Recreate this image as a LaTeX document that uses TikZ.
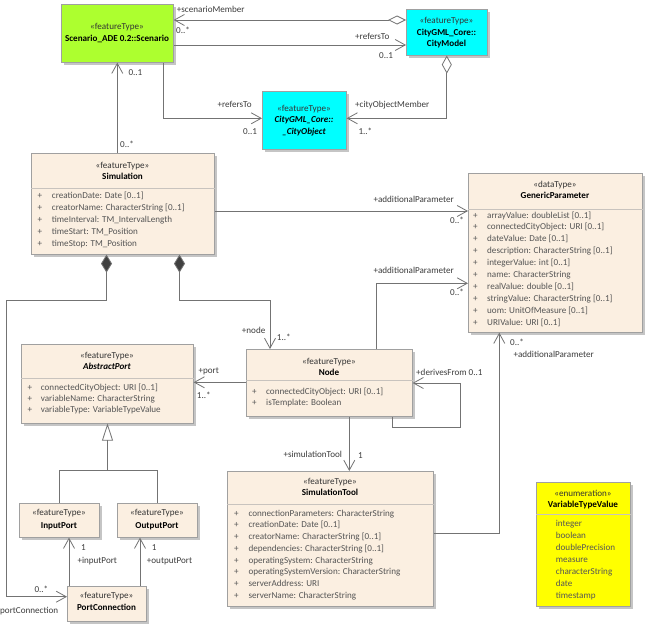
\documentclass[tikz,border=0pt]{standalone}
\usepackage{fontspec}
\setmainfont{Carlito}
\usetikzlibrary{arrows.meta,shadows}
\definecolor{clsfill}{RGB}{251,239,225}
\definecolor{clsborder}{RGB}{160,160,160}
\definecolor{sepcol}{RGB}{200,195,190}
\definecolor{linecol}{RGB}{115,115,115}
\definecolor{attrcol}{RGB}{85,85,85}
\definecolor{lblcol}{RGB}{60,60,60}
\definecolor{scengreen}{RGB}{173,255,47}
\definecolor{cgcyan}{RGB}{0,255,255}
\definecolor{enumyel}{RGB}{255,255,0}
\tikzset{
  cls/.style={draw=clsborder, fill=#1, line width=0.6pt, inner sep=0pt, anchor=north west,
    drop shadow={shadow xshift=2.5pt, shadow yshift=-2.5pt, fill=black!45, opacity=0.5}},
  sepline/.style={draw=sepcol, line width=0.6pt},
  txt/.style={font=\fontsize{9.1}{11}\selectfont, inner sep=0pt, anchor=base},
  stereo/.style={txt, text=black!80},
  ttl/.style={txt, font=\fontsize{9.1}{11}\selectfont\bfseries, text=black},
  ttli/.style={txt, font=\fontsize{9.1}{11}\selectfont\bfseries\itshape, text=black},
  attr/.style={txt, text=attrcol, anchor=base west},
  lbl/.style={txt, text=lblcol, anchor=base west},
  conn/.style={draw=linecol, line width=0.8pt},
  nav/.style={-{Straight Barb[length=10pt,width=11pt,line width=0.8pt]}},
}
\begin{document}
\begin{tikzpicture}[x=1pt,y=-1pt]
\useasboundingbox[fill=white] (0,0) rectangle (651,632);

% ---------- boxes ----------
\node[cls=scengreen, minimum width=112pt, minimum height=58pt] (scen) at (61,4) {};
\node[cls=cgcyan, minimum width=81pt, minimum height=46pt] (cm) at (406,9) {};
\node[cls=cgcyan, minimum width=84pt, minimum height=58pt] (cobj) at (262,91) {};
\node[cls=clsfill, minimum width=183pt, minimum height=101pt] (sim) at (31,153) {};
\node[cls=clsfill, minimum width=174pt, minimum height=159pt] (gp) at (468,173) {};
\node[cls=clsfill, minimum width=166pt, minimum height=67pt] (nd) at (246,349) {};
\node[cls=clsfill, minimum width=172pt, minimum height=79pt] (ap) at (21,344) {};
\node[cls=clsfill, minimum width=80pt, minimum height=34pt] (ip) at (19,503) {};
\node[cls=clsfill, minimum width=80pt, minimum height=34pt] (op) at (117,503) {};
\node[cls=clsfill, minimum width=79pt, minimum height=35pt] (pc) at (67,586) {};
\node[cls=clsfill, minimum width=206pt, minimum height=135pt] (tool) at (227,471) {};
\node[cls=enumyel, minimum width=94pt, minimum height=124pt] (vtv) at (536,482) {};

% separators
\draw[sepline] (sim.west |- 0,188) -- (sim.east |- 0,188);
\draw[sepline] (gp.west |- 0,209) -- (gp.east |- 0,209);
\draw[sepline] (nd.west |- 0,380) -- (nd.east |- 0,380);
\draw[sepline] (ap.west |- 0,378) -- (ap.east |- 0,378);
\draw[sepline] (tool.west |- 0,504) -- (tool.east |- 0,504);
\draw[sepline] (vtv.west |- 0,514) -- (vtv.east |- 0,514);

% ---------- titles ----------
\node[stereo] (scen-s) at (117,29.7) {«featureType»};
\node[ttl] (scen-t) at (117,41.7) {Scenario\_ADE 0.2::Scenario};

\node[stereo] (cm-s) at (446.5,23.7) {«featureType»};
\node[ttl] (cm-t1) at (446.5,35.3) {CityGML\_Core::};
\node[ttl] (cm-t2) at (446.5,46.3) {CityModel};

\node[stereo] (cobj-s) at (304,111.3) {«featureType»};
\node[ttli] (cobj-t1) at (304,122.7) {CityGML\_Core::};
\node[ttli] (cobj-t2) at (304,134.3) {\_CityObject};

\node[stereo] (sim-s) at (122.5,168) {«featureType»};
\node[ttl] (sim-t) at (122.5,179) {Simulation};

\node[stereo] (gp-s) at (555,187) {«dataType»};
\node[ttl] (gp-t) at (555,198.3) {GenericParameter};

\node[stereo] (nd-s) at (329,364.7) {«featureType»};
\node[ttl] (nd-t) at (329,375) {Node};

\node[stereo] (ap-s) at (107,358) {«featureType»};
\node[ttli] (ap-t) at (107,369) {AbstractPort};

\node[stereo] (ip-s) at (59,515.7) {«featureType»};
\node[ttl] (ip-t) at (59,528) {InputPort};

\node[stereo] (op-s) at (157,515.7) {«featureType»};
\node[ttl] (op-t) at (157,528) {OutputPort};

\node[stereo] (pc-s) at (106.5,598.7) {«featureType»};
\node[ttl] (pc-t) at (106.5,610.7) {PortConnection};

\node[stereo] (tool-s) at (330,484.7) {«featureType»};
\node[ttl] (tool-t) at (330,495.7) {SimulationTool};

\node[stereo] (vtv-s) at (583,496) {«enumeration»};
\node[ttl] (vtv-t) at (583,507.3) {VariableTypeValue};

% ---------- attributes ----------
\foreach \t [count=\i] in {{creationDate: Date [0..1]},{creatorName: CharacterString [0..1]},{timeInterval: TM\_IntervalLength},{timeStart: TM\_Position},{timeStop: TM\_Position}}{
  \node[attr] (sim-p\i) at (37.5,{198+(\i-1)*12}) {+};
  \node[attr] (sim-a\i) at (51.7,{198+(\i-1)*12}) {\t};
}
\foreach \t [count=\i] in {{arrayValue: doubleList [0..1]},{connectedCityObject: URI [0..1]},{dateValue: Date [0..1]},{description: CharacterString [0..1]},{integerValue: int [0..1]},{name: CharacterString},{realValue: double [0..1]},{stringValue: CharacterString [0..1]},{uom: UnitOfMeasure [0..1]},{URIValue: URI [0..1]}}{
  \node[attr] (gp-p\i) at (473,{218+(\i-1)*11.9}) {+};
  \node[attr] (gp-a\i) at (487,{218+(\i-1)*11.9}) {\t};
}
\foreach \t [count=\i] in {{connectedCityObject: URI [0..1]},{isTemplate: Boolean}}{
  \node[attr] (nd-p\i) at (252,{394.7+(\i-1)*11}) {+};
  \node[attr] (nd-a\i) at (266,{394.7+(\i-1)*11}) {\t};
}
\foreach \t [count=\i] in {{connectedCityObject: URI [0..1]},{variableName: CharacterString},{variableType: VariableTypeValue}}{
  \node[attr] (ap-p\i) at (27.3,{390.3+(\i-1)*11.2}) {+};
  \node[attr] (ap-a\i) at (40.7,{390.3+(\i-1)*11.2}) {\t};
}
\foreach \t [count=\i] in {{connectionParameters: CharacterString},{creationDate: Date [0..1]},{creatorName: CharacterString [0..1]},{dependencies: CharacterString [0..1]},{operatingSystem: CharacterString},{operatingSystemVersion: CharacterString},{serverAddress: URI},{serverName: CharacterString}}{
  \node[attr] (tool-p\i) at (234,{516+(\i-1)*11.76}) {+};
  \node[attr] (tool-a\i) at (248.3,{516+(\i-1)*11.76}) {\t};
}
\foreach \t [count=\i] in {integer,boolean,doublePrecision,measure,characterString,date,timestamp}{
  \node[attr] (vtv-a\i) at (555.7,{526+(\i-1)*12}) {\t};
}

% ---------- connectors ----------
% scenarioMember (aggregation at CityModel)
\draw[conn, {Straight Barb[length=10pt,width=11pt,line width=0.8pt]}-{Diamond[length=18pt,width=9pt,fill=white,line width=0.8pt]}]
  (scen.east |- 0,20) -- (cm.west |- 0,20);
% refersTo CityModel
\draw[conn, nav] (scen.east |- 0,45) -- (cm.west |- 0,45);
% refersTo _CityObject
\draw[conn, nav] (scen.south -| 163,0) |- (cobj.west |- 0,118.3);
% cityObjectMember
\draw[conn, {Diamond[length=18pt,width=10pt,fill=white,line width=0.8pt]}-{Straight Barb[length=10pt,width=11pt,line width=0.8pt]}]
  (cm.south) |- (cobj.east |- 0,118.3);
% Simulation -> Scenario
\draw[conn, nav] (sim.north -| scen.south) -- (scen.south);
% Simulation -> GenericParameter
\draw[conn, nav] (sim.east |- 0,211) -- (gp.west |- 0,211);
% Node -> GenericParameter
\draw[conn, nav] (nd.north -| 376,0) |- (gp.west |- 0,283.3);
% SimulationTool -> GenericParameter
\draw[conn, nav] (tool.east |- 0,533.3) -| (gp.south -| 499.3,0);
% Simulation -> Node (composition)
\draw[conn, {Diamond[length=18pt,width=11pt,fill=black!75,line width=0.8pt]}-{Straight Barb[length=10pt,width=11pt,line width=0.8pt]}]
  (sim.south -| 179.5,0) |- (270,300) -- (nd.north -| 270,0);
% Simulation -> PortConnection (composition)
\draw[conn, {Diamond[length=18pt,width=11pt,fill=black!75,line width=0.8pt]}-{Straight Barb[length=10pt,width=11pt,line width=0.8pt]}]
  (sim.south -| 106.5,0) |- (6.7,300) |- (pc.west |- 0,596.7);
% Node -> AbstractPort
\draw[conn, nav] (nd.west |- 0,382.3) -- (ap.east |- 0,382.3);
% generalization
\draw[conn] (ip.north) |- (op.north |- 0,470) -- (op.north);
\coordinate (genj) at (107.5,470);
\draw[conn, -{Triangle[open, length=17pt, width=11pt, line width=0.8pt]}] (genj) -- (ap.south -| genj);
% PortConnection -> InputPort / OutputPort
\draw[conn, nav] (pc.north -| 69,0) -- (ip.south -| 69,0);
\draw[conn, nav] (pc.north -| 140,0) -- (op.south -| 140,0);
% derivesFrom self association
\draw[conn, nav] (nd.south -| 392.3,0) |- (460,427.7) |- (nd.east |- 0,383);
% Node -> SimulationTool
\draw[conn, nav] (nd.south -| 349.3,0) -- (tool.north -| 349.3,0);

% ---------- labels ----------
\node[lbl] (l1) at (176.7,12.3) {+scenarioMember};
\node[lbl] (l2) at (176,33) {0..*};
\node[lbl] (l3) at (355,39) {+refersTo};
\node[lbl] (l4) at (379,58.3) {0..1};
\node[lbl] (l5) at (128.3,75.7) {0..1};
\node[lbl] (l6) at (120,147) {0..*};
\node[lbl] (l7) at (217.3,107.3) {+refersTo};
\node[lbl] (l8) at (243,134) {0..1};
\node[lbl] (l9) at (355,107.3) {+cityObjectMember};
\node[lbl] (l10) at (358.3,134) {1..*};
\node[lbl] (l11) at (373.3,202.3) {+additionalParameter};
\node[lbl] (l12) at (450,223.7) {0..*};
\node[lbl] (l13) at (373.3,273) {+additionalParameter};
\node[lbl] (l14) at (450,295.7) {0..*};
\node[lbl] (l15) at (510,345.3) {0..*};
\node[lbl] (l16) at (513.3,357.3) {+additionalParameter};
\node[lbl] (l17) at (241.7,333.7) {+node};
\node[lbl] (l18) at (276.7,340.3) {1..*};
\node[lbl] (l19) at (198.3,373) {+port};
\node[lbl] (l20) at (196.7,398) {1..*};
\node[lbl] (l21) at (416,375.3) {+derivesFrom 0..1};
\node[lbl] (l22) at (283.3,457) {+simulationTool};
\node[lbl] (l23) at (358,458.7) {1};
\node[lbl] (l24) at (81,550.3) {1};
\node[lbl] (l25) at (77.3,563) {+inputPort};
\node[lbl] (l26) at (151.7,550.3) {1};
\node[lbl] (l27) at (146.7,563) {+outputPort};
\node[lbl] (l28) at (34.3,592.3) {0..*};
\node[lbl] (l29) at (0,613) {portConnection};
\end{tikzpicture}
\end{document}
